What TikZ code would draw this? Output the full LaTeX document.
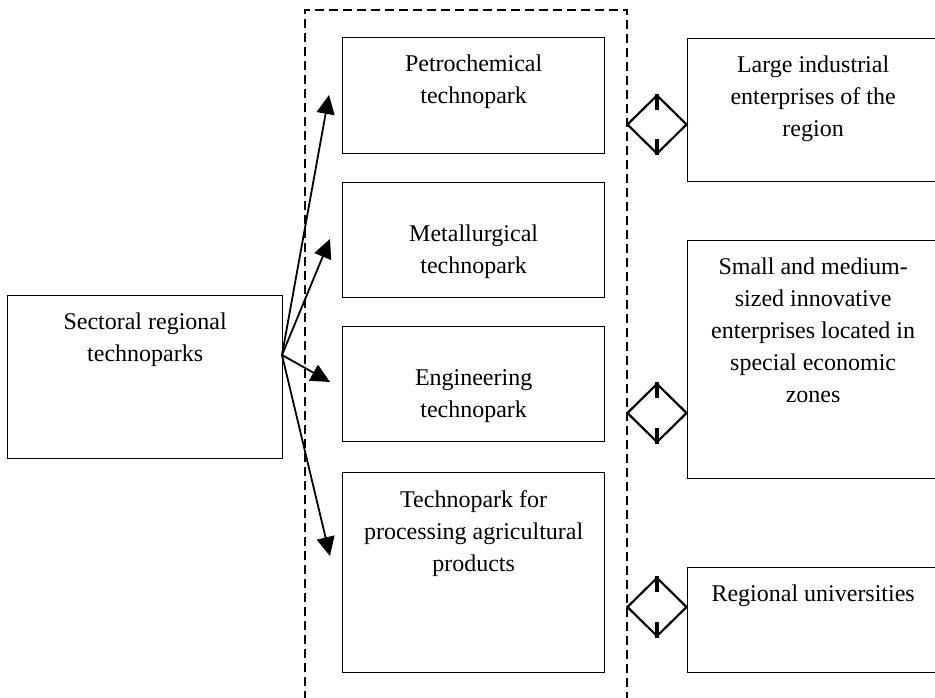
\documentclass[tikz,border=0pt]{standalone}
\usepackage{fontspec}
\setmainfont{Liberation Serif}
\usetikzlibrary{shapes.geometric,arrows.meta,calc}
\begin{document}
\begin{tikzpicture}[x=1pt,y=-1pt,
  box/.style={draw,line width=1.3pt,inner sep=0,anchor=north west},
  lbl/.style={font=\fontsize{24}{32}\selectfont,align=center,anchor=north,inner sep=0},
  fanarrow/.style={line width=1.8pt,-{Triangle[length=19pt,width=18pt]}},
  link/.style={draw,diamond,line width=2.2pt,minimum width=60pt,minimum height=59pt,inner sep=0},
  tickmark/.style={line width=3.5pt},
  frame/.style={line width=1.3pt,dash pattern=on 9pt off 5pt}
]
\useasboundingbox (0,0) rectangle (935,698);
\clip (0,0) rectangle (935,698);
% dashed group frame
\coordinate (fbl) at (305,700);
\coordinate (ftl) at (305,10);
\coordinate (ftr) at (627,10);
\coordinate (fbr) at (627,700);
\draw[frame] (fbl) -- (ftl) -- (ftr) -- (fbr);
% boxes
\node[box,minimum width=275pt,minimum height=163pt] (left) at (7,295) {};
\node[box,minimum width=262pt,minimum height=116pt] (petro) at (342,37) {};
\node[box,minimum width=262pt,minimum height=115pt] (metal) at (342,182) {};
\node[box,minimum width=262pt,minimum height=115pt] (eng) at (342,326) {};
\node[box,minimum width=262pt,minimum height=200pt] (agri) at (342,472) {};
\node[box,minimum width=251pt,minimum height=143pt] (large) at (687,38) {};
\node[box,minimum width=251pt,minimum height=238pt] (small) at (687,240) {};
\node[box,minimum width=251pt,minimum height=105pt] (univ) at (687,567) {};
% labels
\node[lbl] (tleft) at ($(left.north)+(0,18)$) {Sectoral regional\\technoparks};
\node[lbl] (tpetro) at ($(petro.north)+(0,18)$) {Petrochemical\\technopark};
\node[lbl] (tmetal) at ($(metal.north)+(0,43)$) {Metallurgical\\technopark};
\node[lbl] (teng) at ($(eng.north)+(0,43)$) {Engineering\\technopark};
\node[lbl] (tagri) at ($(agri.north)+(0,18)$) {Technopark for\\processing agricultural\\products};
\node[lbl] (tlarge) at ($(large.north)+(0,18)$) {Large industrial\\enterprises of the\\region};
\node[lbl] (tsmall) at ($(small.north)+(0,18)$) {Small and medium-\\sized innovative\\enterprises located in\\special economic\\zones};
\node[lbl] (tuniv) at ($(univ.north)+(0,18)$) {Regional universities};
% fan of arrows
\coordinate (fan) at (282,355);
\coordinate (tip1) at (329,95);
\coordinate (tip2) at (330,239);
\coordinate (tip3) at (330,382);
\coordinate (tip4) at (330,556);
\draw[fanarrow] (fan) -- (tip1);
\draw[fanarrow] (fan) -- (tip2);
\draw[fanarrow] (fan) -- (tip3);
\draw[fanarrow] (fan) -- (tip4);
% diamonds
\node[link] (d1) at (657,124.5) {};
\node[link] (d2) at (657,413) {};
\node[link] (d3) at (657,607) {};
\foreach \d in {d1,d2,d3}{
  \draw[tickmark] (\d.north) -- ++(0,16);
  \draw[tickmark] (\d.south) -- ++(0,-16);
}
\end{tikzpicture}
\end{document}
